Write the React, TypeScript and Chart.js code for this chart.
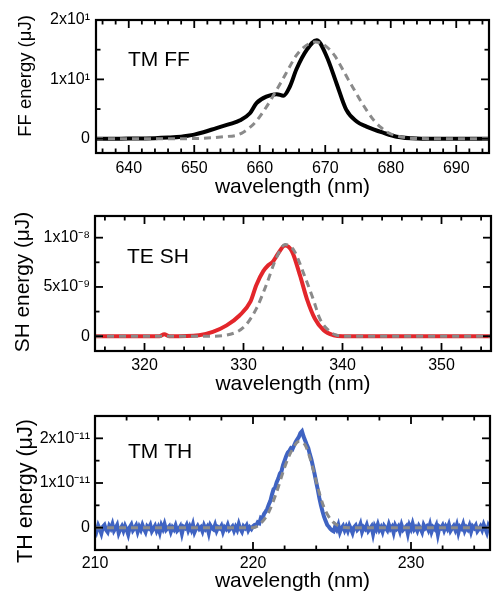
import React, { useEffect, useRef } from "react";
import { Chart, registerables } from "chart.js";

Chart.register(...registerables);
Chart.defaults.font.family = '"Liberation Sans", Arial, Helvetica, sans-serif';
Chart.defaults.color = "#000";

// ---------- Panel 1: TM FF (energy in μJ) ----------
const ffWavelength = [635, 638, 641, 644, 646, 648, 649, 650, 651.4, 653.4, 655.5, 657, 658.5, 659.5, 661, 662.6, 663.6, 664.6, 665.6, 667.2, 668.7, 670.2, 671.7, 673.2, 674.8, 676.3, 678.9, 680.9, 684, 688, 695];
const ffMeasured = [0, 0, 0.05, 0.1, 0.2, 0.35, 0.5, 0.7, 1.1, 1.8, 2.5, 3.1, 4.3, 6.0, 7.1, 7.5, 7.25, 8.8, 11.7, 15.0, 16.6, 13.9, 9.4, 4.9, 2.9, 2.05, 1.0, 0.35, 0.05, 0, 0];
const ffFitWavelength = [635, 645, 650, 652.5, 654.5, 656.5, 657.5, 658.5, 659.5, 660.5, 661.5, 662.5, 663.5, 664.5, 665.5, 666.5, 667.5, 668.5, 669.5, 670.5, 671.5, 672.5, 673.5, 674.5, 675.5, 676.5, 677.5, 678.5, 679.5, 680.5, 682.5, 684.5, 687, 695];
const ffFit = [0, 0, 0.03, 0.15, 0.35, 0.6, 1.1, 1.9, 3.0, 4.5, 6.2, 8.1, 10.0, 12.0, 13.9, 15.2, 16.0, 16.3, 16.0, 15.2, 13.9, 12.0, 10.0, 8.1, 6.2, 4.5, 3.0, 1.9, 1.1, 0.6, 0.15, 0.03, 0, 0];
const ffXMajor = [640, 650, 660, 670, 680, 690];
const ffXMinor = [636, 638, 642, 644, 646, 648, 652, 654, 656, 658, 662, 664, 666, 668, 672, 674, 676, 678, 682, 684, 686, 688, 692, 694];
const ffYTicks = [0, 10, 20];
const ffYTickLabels = ["0", "1x10\u00B9", "2x10\u00B9"];
const ffYMinor = [5, 15];

// ---------- Panel 2: TE SH ----------
const shWavelength = [315, 321.5, 322, 322.5, 325.5, 326.9, 328.3, 329.6, 330.7, 331.3, 332, 332.5, 333, 333.5, 334.2, 334.9, 335.7, 336.4, 337.2, 338.1, 339.1, 340, 355];
const shMeasured = [0, 0, 0.2e-9, 0, 0.1e-9, 0.44e-9, 1.1e-9, 2.1e-9, 3.5e-9, 5.2e-9, 6.6e-9, 7.2e-9, 7.6e-9, 8.4e-9, 9.2e-9, 8.6e-9, 6.2e-9, 3.8e-9, 1.8e-9, 0.6e-9, 0.1e-9, 0, 0];
const shFitWavelength = [315, 326.5, 329, 330.2, 331.3, 332.3, 333.3, 334.2, 335.1, 336.1, 337.1, 337.7, 338.7, 339.4, 340.5, 355];
const shFit = [0, 0, 0.3e-9, 1.1e-9, 2.8e-9, 5.2e-9, 7.9e-9, 9.3e-9, 8.7e-9, 6.3e-9, 3.6e-9, 1.8e-9, 0.5e-9, 0.1e-9, 0, 0];
const shXMajor = [320, 330, 340, 350];
const shXMinor = [316, 318, 322, 324, 326, 328, 332, 334, 336, 338, 342, 344, 346, 348, 352, 354];
const shYTicks = [0, 5e-9, 1e-8];
const shYTickLabels = ["0", "5x10\u207B\u2079", "1x10\u207B\u2078"];
const shYMinor = [2.5e-9, 7.5e-9];

// ---------- Panel 3: TM TH (values in units of 1e-12 μJ, sampled every 0.1 nm from 210 nm) ----------
const thStart = 210;
const thStep = 0.1;
const thMeasuredE12 = [
  0.3, -0.8, 0.5, -0.3, -1.3, 0.2, 0.6, -0.5, -1.0, 0.4,
  -0.2, 0.8, -0.7, -0.1, 0.6, -1.2, -0.3, 0.3, -0.7, 0.4,
  -0.4, -1.5, 0.1, 0.7, -0.6, -0.1, 0.5, -0.9, 0.2, -0.5,
  0.6, -0.3, -1.0, 0.3, -0.1, 0.6, -0.8, -0.2, 0.4, -0.7,
  0.1, -1.1, 0.5, -0.3, 0.8, -0.5, -0.1, 0.3, -0.9, 0.1,
  -0.4, 0.5, -0.7, -0.3, 0.3, -1.3, 0.2, -0.1, 0.6, -0.6,
  0.3, -0.5, 0.7, -1.0, -0.2, 0.4, -0.3, 0.1, -0.8, 0.5,
  -0.3, 0.2, -1.2, 0.5, -0.1, -0.4, 0.6, -0.7, 0.1, -0.2,
  0.4, -0.9, 0.1, -0.3, 0.6, -0.5, -0.1, 0.3, -0.7, 0.2,
  -0.5, 0.8, -0.3, -0.9, 0.3, -0.1, 0.5, -0.6, 0.1, -0.3,
  0.3, 0.6, 0.5, 1.2, 1.0, 2.2, 2.0, 3.1, 3.6, 4.2,
  5.2, 6.0, 7.4, 8.6, 9.0, 10.2, 11.0, 12.1, 12.6, 14.0,
  15.0, 16.0, 16.8, 17.2, 17.8, 17.6, 18.4, 19.2, 19.8, 20.3,
  21.2, 21.6, 20.4, 19.5, 18.6, 17.8, 16.4, 15.2, 13.6, 12.0,
  10.2, 8.5, 6.6, 5.0, 3.6, 2.4, 1.5, 0.6, 0.2, -0.3,
  -0.6,
  -0.8, 0.3, -0.4, 0.6, -1.0, -0.1, 0.4, -0.6, 0.2, -0.7,
  0.5, -0.3, -1.2, 0.1, 0.5, -0.5, -0.1, 0.8, -0.9, 0.1,
  -0.3, 0.6, -0.7, -0.2, 0.3, -1.4, 0.3, -0.4, 0.7, -0.5,
  0.1, -0.9, 0.4, -0.1, -0.6, 0.7, -0.3, 0.2, -1.1, 0.5,
  -0.2, 0.3, -0.8, 0.6, -0.5, -0.1, 0.3, -1.3, 0.5, -0.3,
  0.9, -0.4, 0.1, -0.7, 0.4, -0.2, -1.0, 0.6, -0.1, 0.3,
  -0.5, 0.7, -0.9, 0.1, -0.3, 0.5, -1.5, 0.2, -0.1, 0.5,
  -0.6, 0.3, -0.3, 0.7, -0.7, -0.1, 0.4, -0.5, 0.6, -1.1,
  0.2, -0.2, 0.8, -0.7, 0.1, -0.4, 0.5, -0.9, 0.3, -0.1,
  0.5, -0.8, -0.3, 0.3, -0.5, 0.7, -0.2, -1.1, 0.4, -0.3,
];
const thFitWavelength = [210, 220, 220.5, 221, 221.5, 222, 222.5, 222.9, 223.3, 223.7, 224.1, 224.5, 225, 225.5, 226, 235];
const thFitE12 = [0, 0, 1.0, 3.5, 8.0, 13.5, 17.6, 19.3, 18.5, 14.5, 9.0, 4.5, 1.5, 0.3, 0, 0];
const thXMajor = [210, 220, 230];
const thXMinor = [212, 214, 216, 218, 222, 224, 226, 228, 232, 234];
const thYTicks = [0, 1e-11, 2e-11];
const thYTickLabels = ["0", "1x10\u207B\u00B9\u00B9", "2x10\u207B\u00B9\u00B9"];
const thYMinor = [0.5e-11, 1.5e-11];

const FONT = '"Liberation Sans", Arial, Helvetica, sans-serif';
const GRAY = "#8a8a8a";

function pts(xs: number[], ys: number[], scale = 1) {
  return xs.map((x, i) => ({ x, y: ys[i] * scale }));
}

type Spec = {
  top: number;
  height: number;
  area: { left: number; right: number; top: number; bottom: number };
  xMin: number; xMax: number; yMin: number; yMax: number;
  xMajor: number[]; xMinor: number[];
  yTicks: number[]; yTickLabels: string[]; yMinor: number[];
  yTitle: string; yTitleSize: number; yTitleX: number; yTitleY: number;
  xTitlePad: number; xTickPad: number; yTickPad: number;
  label: string; labelDx: number; labelDy: number;
  datasets: any[];
};

const thMeasuredPts = thMeasuredE12.map((v, i) => ({ x: thStart + i * thStep, y: v * 1e-12 }));

const specs: Spec[] = [
  {
    top: 0, height: 200,
    area: { left: 96, right: 489, top: 20, bottom: 153 },
    xMin: 635, xMax: 695, yMin: -2.4, yMax: 20,
    xMajor: ffXMajor, xMinor: ffXMinor,
    yTicks: ffYTicks, yTickLabels: ffYTickLabels, yMinor: ffYMinor,
    yTitle: "FF energy (\u03BCJ)", yTitleSize: 18.5, yTitleX: 26, yTitleY: 76,
    xTitlePad: 0, xTickPad: 6, yTickPad: 6,
    label: "TM FF", labelDx: 32, labelDy: 40,
    datasets: [
      { data: pts(ffFitWavelength, ffFit), borderColor: GRAY, borderWidth: 3, borderDash: [7, 5], cubicInterpolationMode: "monotone", order: 0 },
      { data: pts(ffWavelength, ffMeasured), borderColor: "#000", borderWidth: 4, cubicInterpolationMode: "monotone", order: 1 },
    ],
  },
  {
    top: 200, height: 198,
    area: { left: 95, right: 491, top: 16, bottom: 151 },
    xMin: 315, xMax: 355, yMin: -1.5e-9, yMax: 1.22e-8,
    xMajor: shXMajor, xMinor: shXMinor,
    yTicks: shYTicks, yTickLabels: shYTickLabels, yMinor: shYMinor,
    yTitle: "SH energy (\u03BCJ)", yTitleSize: 20.8, yTitleX: 23.5, yTitleY: 82,
    xTitlePad: 1, xTickPad: 5, yTickPad: 5,
    label: "TE SH", labelDx: 32, labelDy: 41,
    datasets: [
      { data: pts(shFitWavelength, shFit), borderColor: GRAY, borderWidth: 3, borderDash: [7, 5], cubicInterpolationMode: "monotone", order: 0 },
      { data: pts(shWavelength, shMeasured), borderColor: "#e3262b", borderWidth: 4, cubicInterpolationMode: "monotone", order: 1 },
    ],
  },
  {
    top: 398, height: 200,
    area: { left: 95, right: 490, top: 18, bottom: 152 },
    xMin: 210, xMax: 235, yMin: -0.5e-11, yMax: 2.5e-11,
    xMajor: thXMajor, xMinor: thXMinor,
    yTicks: thYTicks, yTickLabels: thYTickLabels, yMinor: thYMinor,
    yTitle: "TH energy (\u03BCJ)", yTitleSize: 21.5, yTitleX: 26, yTitleY: 93,
    xTitlePad: 4, xTickPad: 4, yTickPad: 5,
    label: "TM TH", labelDx: 33, labelDy: 36,
    datasets: [
      { data: pts(thFitWavelength, thFitE12, 1e-12), borderColor: GRAY, borderWidth: 3, borderDash: [7, 5], cubicInterpolationMode: "monotone", order: 0 },
      { data: thMeasuredPts, borderColor: "#3f63c2", borderWidth: 4, tension: 0, order: 1 },
    ],
  },
];

function Panel({ spec }: { spec: Spec }) {
  const ref = useRef<HTMLCanvasElement | null>(null);
  useEffect(() => {
    const canvas = ref.current;
    if (!canvas) return;
    const s = spec;
    const framePlugin = {
      id: "frameTicks",
      afterDatasetsDraw(chart: any) {
        const { ctx, chartArea: a, scales } = chart;
        const xs = scales.x;
        const ys = scales.y;
        ctx.save();
        ctx.strokeStyle = "#000";
        ctx.lineWidth = 1.8;
        const seg = (x0: number, y0: number, x1: number, y1: number) => {
          ctx.beginPath();
          ctx.moveTo(x0, y0);
          ctx.lineTo(x1, y1);
          ctx.stroke();
        };
        const xt = (vals: number[], len: number) => {
          for (const v of vals) {
            const p = xs.getPixelForValue(v);
            seg(p, a.bottom, p, a.bottom - len);
            seg(p, a.top, p, a.top + len);
          }
        };
        const yt = (vals: number[], len: number) => {
          for (const v of vals) {
            const p = ys.getPixelForValue(v);
            seg(a.left, p, a.left + len, p);
            seg(a.right, p, a.right - len, p);
          }
        };
        xt(s.xMajor, 8);
        xt(s.xMinor, 4.5);
        yt(s.yTicks, 8);
        yt(s.yMinor, 4.5);
        ctx.lineWidth = 2.2;
        ctx.strokeRect(a.left, a.top, a.right - a.left, a.bottom - a.top);
        ctx.fillStyle = "#000";
        ctx.font = `21px ${FONT}`;
        ctx.textBaseline = "middle";
        ctx.textAlign = "left";
        ctx.fillText(s.label, a.left + s.labelDx, a.top + s.labelDy);
        // y-axis title
        ctx.translate(s.yTitleX, s.yTitleY);
        ctx.rotate(-Math.PI / 2);
        ctx.font = `${s.yTitleSize}px ${FONT}`;
        ctx.textAlign = "center";
        ctx.fillText(s.yTitle, 0, 0);
        ctx.restore();
      },
    };
    const chart = new Chart(canvas, {
      type: "line",
      data: {
        datasets: s.datasets.map((d) => ({ ...d, pointRadius: 0, fill: false, spanGaps: true })),
      },
      options: {
        animation: false,
        responsive: false,
        devicePixelRatio: 1,
        layout: {
          padding: { left: 0, top: s.area.top, right: 495 - s.area.right, bottom: 0 },
        },
        plugins: { legend: { display: false }, tooltip: { enabled: false } },
        scales: {
          x: {
            type: "linear",
            min: s.xMin,
            max: s.xMax,
            grid: { display: false, drawTicks: false },
            border: { display: false },
            afterBuildTicks: (scale: any) => {
              scale.ticks = s.xMajor.map((v) => ({ value: v }));
            },
            afterFit: (scale: any) => {
              scale.height = s.height - s.area.bottom;
            },
            ticks: {
              autoSkip: false,
              maxRotation: 0,
              padding: s.xTickPad,
              font: { size: 16, family: FONT },
              color: "#000",
              callback: (v: any) => String(v),
            },
            title: {
              display: true,
              text: "wavelength (nm)",
              font: { size: 21, family: FONT },
              color: "#000",
              padding: { top: 0, bottom: s.xTitlePad },
            },
          },
          y: {
            type: "linear",
            min: s.yMin,
            max: s.yMax,
            grid: { display: false, drawTicks: false },
            border: { display: false },
            afterBuildTicks: (scale: any) => {
              scale.ticks = s.yTicks.map((v) => ({ value: v }));
            },
            afterFit: (scale: any) => {
              scale.width = s.area.left;
            },
            ticks: {
              autoSkip: false,
              padding: s.yTickPad,
              font: { size: 16, family: FONT },
              color: "#000",
              callback: (v: any) => {
                const i = s.yTicks.findIndex((t) => Math.abs(t - v) <= Math.abs(t) * 1e-6 + 1e-30);
                return i >= 0 ? s.yTickLabels[i] : "";
              },
            },
          },
        },
      } as any,
      plugins: [framePlugin],
    });
    return () => chart.destroy();
  }, [spec]);
  return (
    <canvas
      ref={ref}
      width={495}
      height={spec.height}
      style={{ position: "absolute", left: 0, top: spec.top, width: 495, height: spec.height }}
    />
  );
}

export default function App() {
  return (
    <div style={{ position: "absolute", left: 0, top: 0, width: 495, height: 598, background: "#fff", overflow: "hidden" }}>
      {specs.map((s, i) => (
        <Panel key={i} spec={s} />
      ))}
    </div>
  );
}
